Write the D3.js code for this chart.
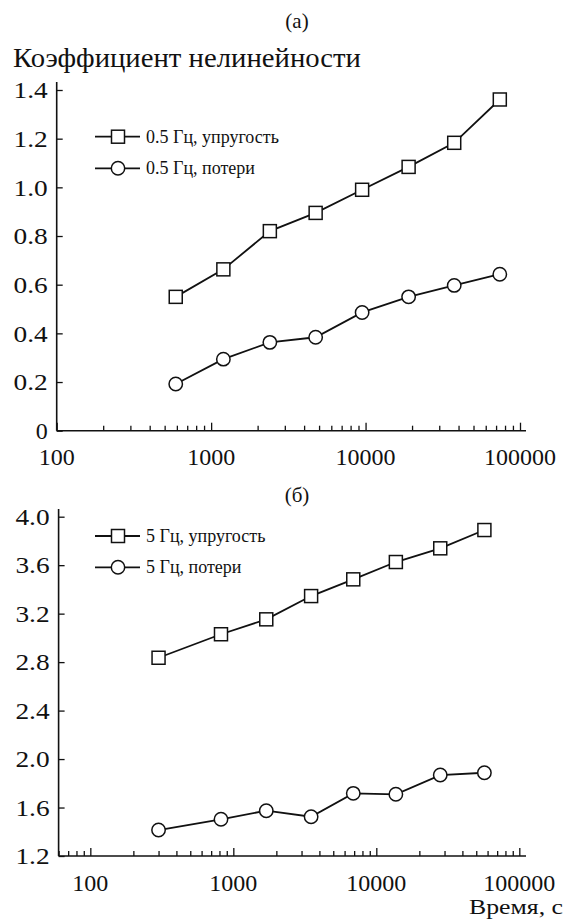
<!DOCTYPE html>
<html><head><meta charset="utf-8">
<script src="https://cdn.jsdelivr.net/npm/d3@7"></script>
<style>
body{margin:0;background:#fff;}
svg{display:block;}
text{font-family:"Liberation Serif","Times New Roman",serif;fill:#111;}
</style></head>
<body>
<svg id="c" width="566" height="919"></svg>
<script>
// ---- data ----
const panelLabels = ["(а)", "(б)"];
const yTitle = "Коэффициент нелинейности";
const xTitle = "Время, с";
const topSeriesNames = ["0.5 Гц, упругость", "0.5 Гц, потери"];
const botSeriesNames = ["5 Гц, упругость", "5 Гц, потери"];
const topTimes = [590, 1200, 2400, 4750, 9500, 19000, 37500, 74000];
const topElastic = [0.55, 0.663, 0.82, 0.895, 0.99, 1.084, 1.183, 1.361];
const topLoss = [0.192, 0.294, 0.363, 0.384, 0.486, 0.55, 0.597, 0.643];
const botTimes = [300, 820, 1700, 3500, 6900, 13700, 28000, 57000];
const botElastic = [2.836, 3.03, 3.153, 3.345, 3.483, 3.626, 3.739, 3.89];
const botLoss = [1.414, 1.503, 1.574, 1.524, 1.717, 1.709, 1.868, 1.887];
const topYTicks = [0, 0.2, 0.4, 0.6, 0.8, 1.0, 1.2, 1.4];
const botYTicks = [1.2, 1.6, 2.0, 2.4, 2.8, 3.2, 3.6, 4.0];
const xMajorTicks = [100, 1000, 10000, 100000];

const FF = "Liberation Serif";
const svg = d3.select("#c");
const tickFont = 24, legFont = 18;

function panel(cfg) {
  const g = svg.append("g");
  const x = d3.scaleLog().domain(cfg.xDomain).range(cfg.xRange);
  const y = d3.scaleLinear().domain(cfg.yDomain).range(cfg.yRange);
  const y0 = cfg.yRange[0];
  // x axis ticks (inward)
  const allTicks = x.ticks().filter(t => t >= cfg.xDomain[0] && t <= 100000);
  const xa = g.append("g").attr("transform", `translate(0,${y0})`)
    .call(d3.axisBottom(x).tickValues(allTicks).tickSize(-5).tickFormat(""));
  xa.attr("font-family", FF);
  xa.select(".domain").remove();
  xa.selectAll(".tick line").attr("stroke", "#111").attr("stroke-width", 1.3)
    .attr("y2", d => xMajorTicks.includes(d) ? -8 : -5);
  g.append("line").attr("x1", cfg.xRange[0]).attr("x2", cfg.xEnd)
    .attr("y1", y0).attr("y2", y0).attr("stroke", "#111").attr("stroke-width", 1.6);
  g.selectAll(".xl").data(xMajorTicks).join("text")
    .attr("x", d => x(d)).attr("y", y0 + cfg.xLabelOff)
    .attr("text-anchor", "middle").attr("font-size", tickFont).attr("font-family", FF)
    .text(d => d3.format("d")(d));
  // y axis
  const ya = g.append("g").attr("transform", `translate(${cfg.xRange[0]},0)`)
    .call(d3.axisLeft(y).tickValues(cfg.yTicks).tickSize(-6)
      .tickFormat(d => d === 0 ? "0" : d.toFixed(1)));
  ya.attr("font-family", FF);
  ya.select(".domain").remove();
  ya.selectAll(".tick line").attr("stroke", "#111").attr("stroke-width", 1.3);
  ya.selectAll(".tick text").attr("x", -9).attr("font-size", tickFont)
    .attr("font-family", FF).attr("fill", "#111")
    .each(function () {
      const L = this.getComputedTextLength();
      if (L > 15) d3.select(this).attr("textLength", L * 1.14).attr("lengthAdjust", "spacingAndGlyphs");
    });
  g.append("line").attr("x1", cfg.xRange[0]).attr("x2", cfg.xRange[0])
    .attr("y1", y0).attr("y2", cfg.yTop).attr("stroke", "#111").attr("stroke-width", 1.6);

  const line = d3.line().x(d => x(d[0])).y(d => y(d[1]));
  const mk = (vals) => cfg.times.map((t, i) => [t, vals[i]]);
  const el = mk(cfg.elastic), lo = mk(cfg.loss);
  [el, lo].forEach(s => g.append("path").attr("d", line(s)).attr("fill", "none")
    .attr("stroke", "#111").attr("stroke-width", 1.8));
  const S = 13;
  g.selectAll(".sq").data(el).join("rect")
    .attr("x", d => x(d[0]) - S / 2).attr("y", d => y(d[1]) - S / 2)
    .attr("width", S).attr("height", S).attr("fill", "#fff")
    .attr("stroke", "#111").attr("stroke-width", 1.5);
  g.selectAll(".ci").data(lo).join("circle")
    .attr("cx", d => x(d[0])).attr("cy", d => y(d[1])).attr("r", 6.7)
    .attr("fill", "#fff").attr("stroke", "#111").attr("stroke-width", 1.5);

  // legend
  cfg.names.forEach((n, i) => {
    const ly = cfg.legY[i];
    g.append("line").attr("x1", 95).attr("x2", 140).attr("y1", ly).attr("y2", ly)
      .attr("stroke", "#111").attr("stroke-width", 1.8);
    if (i === 0) g.append("rect").attr("x", 118 - S / 2).attr("y", ly - S / 2)
      .attr("width", S).attr("height", S).attr("fill", "#fff").attr("stroke", "#111").attr("stroke-width", 1.5);
    else g.append("circle").attr("cx", 118).attr("cy", ly).attr("r", 6.7)
      .attr("fill", "#fff").attr("stroke", "#111").attr("stroke-width", 1.5);
    g.append("text").attr("x", 146).attr("y", ly + 6).attr("font-size", legFont)
      .attr("font-family", FF).text(n);
  });
  svg.append("text").attr("x", 297).attr("y", cfg.panelY).attr("text-anchor", "middle")
    .attr("font-size", 21).attr("font-family", FF).text(cfg.panel);
}

panel({xDomain: [100, 100000], xRange: [56.7, 520], xEnd: 526, yDomain: [0, 1.4], yRange: [430.7, 90],
  yTop: 82, yTicks: topYTicks, xLabelOff: 34.5, times: topTimes, elastic: topElastic, loss: topLoss,
  names: topSeriesNames, legY: [136.7, 168.3], panel: panelLabels[0], panelY: 28});
panel({xDomain: [60, 100000], xRange: [58.6, 519.3], xEnd: 526, yDomain: [1.2, 4.0], yRange: [856, 516.7],
  yTop: 509, yTicks: botYTicks, xLabelOff: 34.5, times: botTimes, elastic: botElastic, loss: botLoss,
  names: botSeriesNames, legY: [536, 567.3], panel: panelLabels[1], panelY: 502});

svg.append("text").attr("x", 13).attr("y", 66.5).attr("font-size", 27).attr("font-family", FF)
  .attr("textLength", 348).attr("lengthAdjust", "spacingAndGlyphs").text(yTitle);
svg.append("text").attr("x", 563).attr("y", 914).attr("text-anchor", "end").attr("font-size", 20)
  .attr("font-family", FF).attr("textLength", 94).attr("lengthAdjust", "spacingAndGlyphs").text(xTitle);
</script>
</body></html>
